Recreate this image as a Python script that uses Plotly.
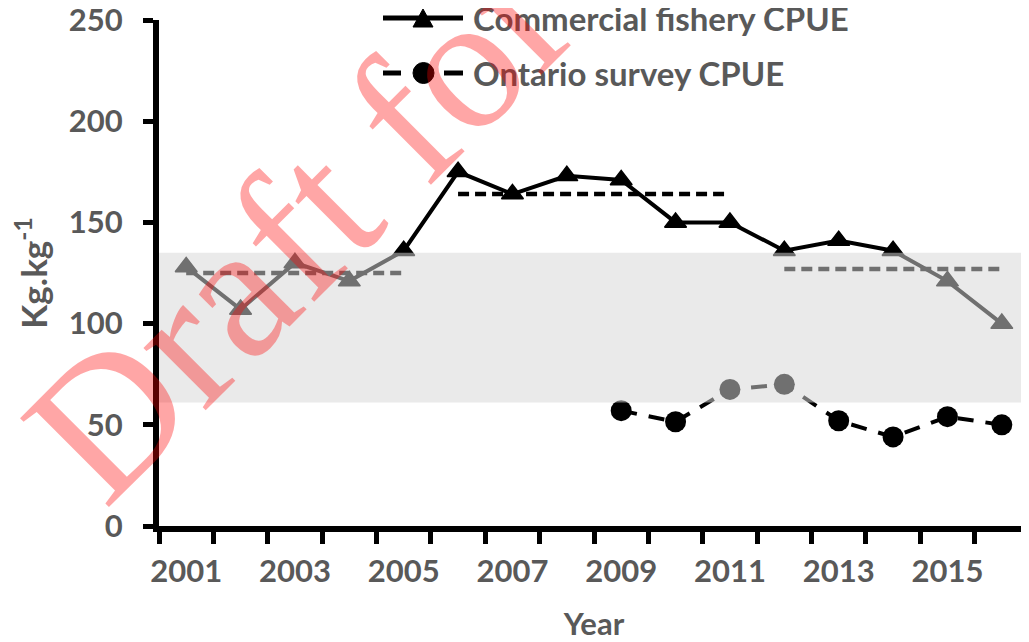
import plotly.graph_objects as go

# ---------------- data ----------------
years = list(range(2001, 2017))
commercial_cpue = [128, 107, 130, 121, 136, 175, 164, 173, 171, 150, 150, 136, 141, 136, 121, 100]
survey_years = list(range(2009, 2017))
survey_cpue = [57, 51.5, 67.5, 70, 52, 44, 54, 50]
period_starts = [2001, 2006, 2012]
period_ends = [2005, 2011, 2016]
period_means = [125, 164, 127]
band_low, band_high = 61, 135
label_years = [2001, 2003, 2005, 2007, 2009, 2011, 2013, 2015]
legend_names = ["Commercial fishery CPUE", "Ontario survey CPUE"]
watermark_text = "Draft for"

# ---------------- layout geometry ----------------
OFF = 8                      # page body margin
W, H = 1029 - OFF, 642 - OFF
L, R, T, B = 159 - OFF, 0, 20 - OFF, 642 - 526
PW, PH = W - L - R, H - T - B


def px(xp):   # page pixel -> paper x
    return (xp - OFF - L) / PW


def py(yp):   # page pixel -> paper y
    return (H - B - (yp - OFF)) / PH


TXT = "#595959"
FONT = "Lato"

fig = go.Figure()

# period mean dashed lines
for s, e, m in zip(period_starts, period_ends, period_means):
    fig.add_trace(go.Scatter(
        x=[s, e], y=[m, m], mode="lines",
        line=dict(color="black", width=4.5, dash="11px,6px"),
        showlegend=False, hoverinfo="skip"))

# commercial fishery
fig.add_trace(go.Scatter(
    x=years, y=commercial_cpue, mode="lines+markers",
    line=dict(color="black", width=4),
    marker=dict(symbol="triangle-up", size=19, color="black",
                line=dict(color="black", width=1.5)),
    name=legend_names[0], showlegend=False))

# ontario survey
fig.add_trace(go.Scatter(
    x=survey_years, y=survey_cpue, mode="lines+markers",
    line=dict(color="black", width=4, dash="16px,12px"),
    marker=dict(symbol="circle", size=21, color="black"),
    name=legend_names[1], showlegend=False))

shapes = []
# reference band (semi-transparent overlay drawn above the series)
shapes.append(dict(type="rect", xref="x domain", yref="y", x0=0, x1=1,
                   y0=band_low, y1=band_high, layer="above",
                   fillcolor="rgba(214,214,214,0.52)", line=dict(width=0)))

# custom legend
ly1, ly2 = 18, 73
shapes.append(dict(type="line", xref="paper", yref="paper",
                   x0=px(383), x1=px(463), y0=py(ly1), y1=py(ly1),
                   line=dict(color="black", width=5), layer="above"))
tw = 10
shapes.append(dict(type="path", xref="paper", yref="paper", layer="above",
                   path=f"M{px(423-tw)},{py(ly1+9)} L{px(423+tw)},{py(ly1+9)} L{px(423)},{py(ly1-9)} Z",
                   fillcolor="black", line=dict(color="black", width=1)))
for x0, x1 in [(383, 401), (444, 463)]:
    shapes.append(dict(type="line", xref="paper", yref="paper",
                       x0=px(x0), x1=px(x1), y0=py(ly2), y1=py(ly2),
                       line=dict(color="black", width=5), layer="above"))
r = 10.5
shapes.append(dict(type="circle", xref="paper", yref="paper", layer="above",
                   x0=px(423.5 - r), x1=px(423.5 + r), y0=py(ly2 + r), y1=py(ly2 - r),
                   fillcolor="black", line=dict(color="black", width=1)))

annotations = []
for name, yy in zip(legend_names, [ly1, ly2]):
    annotations.append(dict(text=name, xref="paper", yref="paper",
                            x=px(471), y=py(yy), xanchor="left", yanchor="middle",
                            showarrow=False,
                            font=dict(family=FONT, size=33, color=TXT, weight="bold")))

# watermark
annotations.append(dict(text=watermark_text, xref="paper", yref="paper",
                        x=px(298), y=py(226), xanchor="center", yanchor="middle",
                        textangle=-45, showarrow=False,
                        font=dict(family="Liberation Serif", size=192,
                                  color="rgba(255,0,0,0.35)")))

fig.update_layout(
    width=W, height=H,
    margin=dict(l=L, r=R, t=T, b=B, pad=0, autoexpand=False),
    plot_bgcolor="white", paper_bgcolor="white",
    shapes=shapes, annotations=annotations,
    showlegend=False,
    xaxis=dict(
        range=[2000.5, 2016.5], tickmode="array", tickvals=label_years,
        ticktext=[str(y) for y in label_years], ticks="",
        ticklabelstandoff=13, automargin=False,
        showline=True, linecolor="black", linewidth=6,
        showgrid=False, zeroline=False,
        minor=dict(ticks="outside", tickmode="linear", tick0=2000.5, dtick=1,
                   ticklen=12, tickwidth=5, tickcolor="black", showgrid=False),
        tickfont=dict(family=FONT, size=31, color=TXT, weight="bold"),
        title=dict(text="Year", standoff=28,
                   font=dict(family=FONT, size=31, color=TXT, weight="bold")),
    ),
    yaxis=dict(
        range=[0, 250], tickmode="linear", tick0=0, dtick=50,
        ticks="outside", ticklen=10, tickwidth=5, tickcolor="black",
        ticklabelstandoff=14, ticklabeloverflow="allow", automargin=False,
        showline=True, linecolor="black", linewidth=6,
        showgrid=False, zeroline=False,
        tickfont=dict(family=FONT, size=31, color=TXT, weight="bold"),
        title=dict(text="Kg.kg<sup>-1</sup>", standoff=35,
                   font=dict(family=FONT, size=35, color=TXT, weight="bold")),
    ),
)

fig.write_html("out.html")
